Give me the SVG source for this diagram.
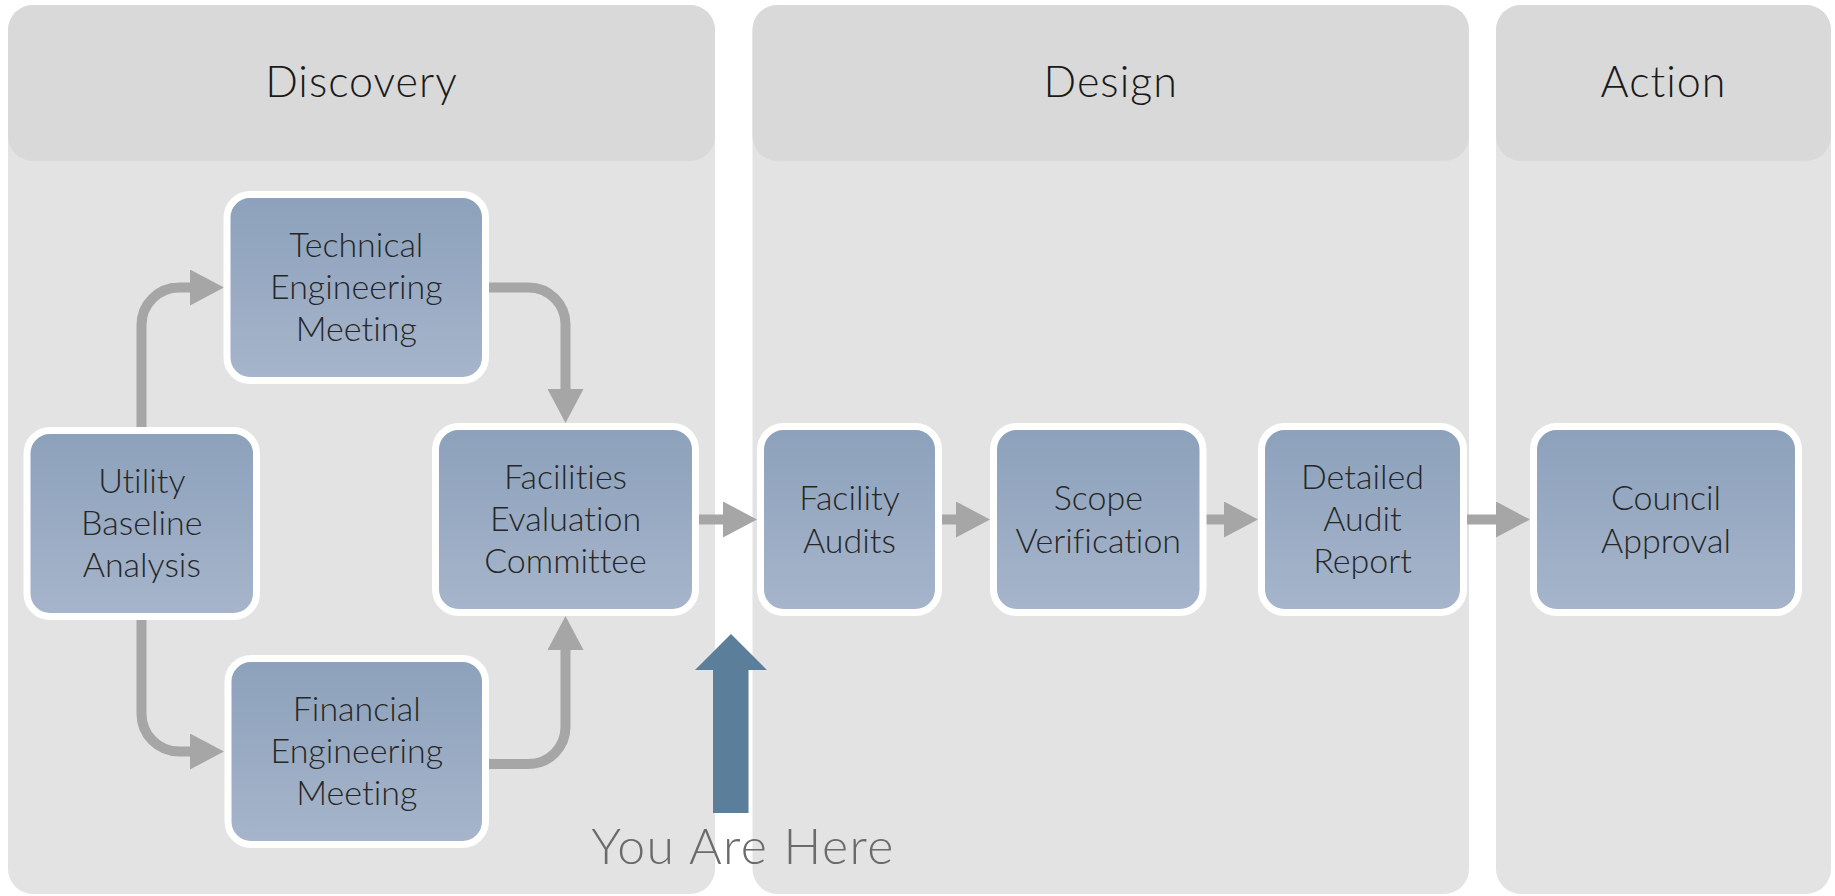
<svg xmlns="http://www.w3.org/2000/svg" width="1835" height="896" viewBox="0 0 1835 896">
  <style>
    text { font-variant-ligatures: none; font-feature-settings: "liga" 0, "dlig" 0; }
    .panel { fill: #e3e3e3; }
    .header { fill: #d9d9d9; }
    .htext { font-family: Lato, "Liberation Sans", sans-serif; font-weight: 300; font-size: 43px; letter-spacing: 1px; fill: #1a1a1a; text-anchor: middle; }
    .box { fill: url(#boxGrad); stroke: #ffffff; stroke-width: 7; }
    .ntext { font-family: Lato, "Liberation Sans", sans-serif; font-weight: 300; font-size: 34px; fill: #262626; text-anchor: middle; }
    .conn { fill: none; stroke: #a6a6a6; stroke-width: 10; marker-end: url(#arrow); }
    .here { fill: #5b7f9a; }
    .heretext { font-family: Lato, "Liberation Sans", sans-serif; font-weight: 300; font-size: 50px; letter-spacing: 1.5px; fill: #6b6b6b; text-anchor: middle; }
  </style>
  <defs>
    <linearGradient id="boxGrad" x1="0" y1="0" x2="0" y2="1">
      <stop offset="0" stop-color="#8ca1bb"/>
      <stop offset="1" stop-color="#a6b5cb"/>
    </linearGradient>
    <marker id="arrow" markerUnits="userSpaceOnUse" viewBox="0 0 34 36" markerWidth="34" markerHeight="36" refX="2" refY="18" orient="auto">
      <path d="M0,0 L34,18 L0,36 Z" fill="#a6a6a6"/>
    </marker>
  </defs>

  <g id="lanes">
    <g id="lane-discovery">
      <rect class="panel" x="8" y="5" width="707" height="889" rx="25"/>
      <rect class="header" x="8" y="5" width="707" height="156" rx="25"/>
      <text class="htext" x="361.5" y="97">Discovery</text>
    </g>
    <g id="lane-design">
      <rect class="panel" x="752.5" y="5" width="716.5" height="889" rx="25"/>
      <rect class="header" x="752.5" y="5" width="716.5" height="156" rx="25"/>
      <text class="htext" x="1110.7" y="97">Design</text>
    </g>
    <g id="lane-action">
      <rect class="panel" x="1496" y="5" width="335" height="889" rx="25"/>
      <rect class="header" x="1496" y="5" width="335" height="156" rx="25"/>
      <text class="htext" x="1663.5" y="97">Action</text>
    </g>
  </g>

  <g id="connectors">
    <path class="conn" d="M141.5,427 V325 A37.5,37.5 0 0 1 179,287.5 H192"/>
    <path class="conn" d="M488.5,287.5 H528.5 A37,37 0 0 1 565.5,324.5 V391"/>
    <path class="conn" d="M141.5,620 V714 A37.5,37.5 0 0 0 179,751.5 H192"/>
    <path class="conn" d="M488.5,764 H528.5 A37,37 0 0 0 565.5,727 V648"/>
    <path class="conn" d="M696,519.5 H725"/>
    <path class="conn" d="M942,519.5 H958"/>
    <path class="conn" d="M1206,519.5 H1226"/>
    <path class="conn" d="M1467,519.5 H1498"/>
  </g>

  <g id="node-technical">
    <rect class="box" x="227" y="194.5" width="258.5" height="186" rx="23"/>
    <text class="ntext" x="356.3" y="256.5">Technical</text>
    <text class="ntext" x="356.3" y="298.5">Engineering</text>
    <text class="ntext" x="356.3" y="340.5">Meeting</text>
  </g>
  <g id="node-utility">
    <rect class="box" x="27" y="430.5" width="229.5" height="186" rx="23"/>
    <text class="ntext" x="141.8" y="492.5">Utility</text>
    <text class="ntext" x="141.8" y="534.5">Baseline</text>
    <text class="ntext" x="141.8" y="576.5">Analysis</text>
  </g>
  <g id="node-facilities">
    <rect class="box" x="435.5" y="426.5" width="260" height="186" rx="23"/>
    <text class="ntext" x="565.5" y="488.5">Facilities</text>
    <text class="ntext" x="565.5" y="530.5">Evaluation</text>
    <text class="ntext" x="565.5" y="572.5">Committee</text>
  </g>
  <g id="node-financial">
    <rect class="box" x="228" y="658.5" width="257.5" height="186" rx="23"/>
    <text class="ntext" x="356.8" y="720.5">Financial</text>
    <text class="ntext" x="356.8" y="762.5">Engineering</text>
    <text class="ntext" x="356.8" y="804.5">Meeting</text>
  </g>
  <g id="node-facility-audits">
    <rect class="box" x="760.5" y="426.5" width="178" height="186" rx="23"/>
    <text class="ntext" x="849.5" y="510">Facility</text>
    <text class="ntext" x="849.5" y="552.5">Audits</text>
  </g>
  <g id="node-scope">
    <rect class="box" x="993.5" y="426.5" width="209.5" height="186" rx="23"/>
    <text class="ntext" x="1098.3" y="510">Scope</text>
    <text class="ntext" x="1098.3" y="552.5">Verification</text>
  </g>
  <g id="node-detailed">
    <rect class="box" x="1261.5" y="426.5" width="202" height="186" rx="23"/>
    <text class="ntext" x="1362.5" y="488.5">Detailed</text>
    <text class="ntext" x="1362.5" y="530.5">Audit</text>
    <text class="ntext" x="1362.5" y="572.5">Report</text>
  </g>
  <g id="node-council">
    <rect class="box" x="1533.5" y="426.5" width="265" height="186" rx="23"/>
    <text class="ntext" x="1666" y="510">Council</text>
    <text class="ntext" x="1666" y="552.5">Approval</text>
  </g>

  <g id="you-are-here">
    <polygon class="here" points="713,813 713,670 695,670 731,634 767,670 748.5,670 748.5,813"/>
    <text class="heretext" x="743" y="864">You Are Here</text>
  </g>
</svg>
